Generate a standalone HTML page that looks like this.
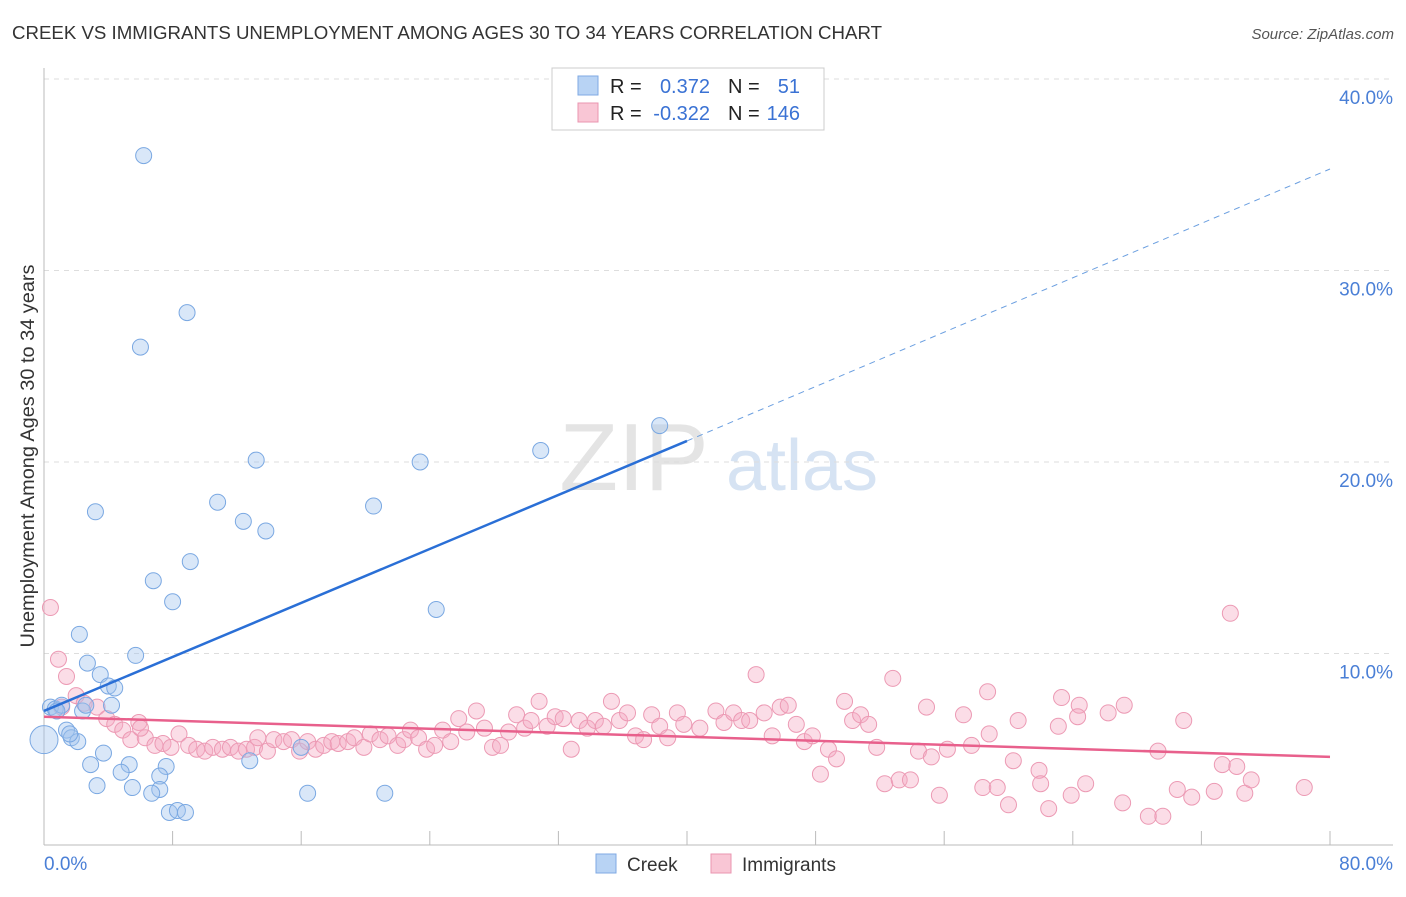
<!DOCTYPE html>
<html><head><meta charset="utf-8"><style>
body{margin:0;background:#fff;font-family:"Liberation Sans",sans-serif;}
svg text{font-family:"Liberation Sans",sans-serif;}
</style></head><body>
<svg id="chart" width="1406" height="892">
<text x="12" y="39" font-size="18" fill="#333" textLength="870" lengthAdjust="spacingAndGlyphs">CREEK VS IMMIGRANTS UNEMPLOYMENT AMONG AGES 30 TO 34 YEARS CORRELATION CHART</text>
<text x="1394" y="39" font-size="15" fill="#555" text-anchor="end" font-style="italic">Source: ZipAtlas.com</text>
<text x="634" y="490" font-size="96" fill="#e4e4e4" font-family="Liberation Serif" text-anchor="middle">ZIP</text>
<text x="802" y="490" font-size="72" fill="#d6e3f3" text-anchor="middle">atlas</text>
<g id="grid"></g>
<g id="axes"></g>
<g id="marks"></g>
<text transform="translate(34,456) rotate(-90)" font-size="19" fill="#333" text-anchor="middle" textLength="383" lengthAdjust="spacingAndGlyphs">Unemployment Among Ages 30 to 34 years</text>
<g>
<rect x="552" y="68" width="272" height="62" fill="#fff" stroke="#ccc"/>
<rect x="578" y="76" width="20" height="19" fill="#b8d3f4" stroke="#7faae3"/>
<rect x="578" y="103" width="20" height="19" fill="#f9c6d5" stroke="#ea95b0"/>
<text x="610" y="93" font-size="20" fill="#222">R =</text>
<text x="710" y="93" font-size="20" fill="#3a72d4" text-anchor="end">0.372</text>
<text x="728" y="93" font-size="20" fill="#222">N =</text>
<text x="800" y="93" font-size="20" fill="#3a72d4" text-anchor="end">51</text>
<text x="610" y="120" font-size="20" fill="#222">R =</text>
<text x="710" y="120" font-size="20" fill="#3a72d4" text-anchor="end">-0.322</text>
<text x="728" y="120" font-size="20" fill="#222">N =</text>
<text x="800" y="120" font-size="20" fill="#3a72d4" text-anchor="end">146</text>
</g>
<g>
<rect x="596" y="854" width="20" height="19" fill="#b8d3f4" stroke="#7faae3"/>
<text x="627" y="871" font-size="19" fill="#333">Creek</text>
<rect x="711" y="854" width="20" height="19" fill="#f9c6d5" stroke="#ea95b0"/>
<text x="742" y="871" font-size="19" fill="#333">Immigrants</text>
</g>
</svg>
<script>
const xTicks=[0,10,20,30,40,50,60,70,80];
const yTicks=[10,20,30,40];
const yTickLabels=["10.0%","20.0%","30.0%","40.0%"];
const xEndLabels=["0.0%","80.0%"];
const creekX=[6.2,8.9,6.0,13.2,23.4,30.9,38.3,3.2,10.8,12.4,13.8,20.5,6.8,9.1,8.0,24.4,2.2,5.7,2.7,3.5,4.0,4.4,4.2,2.4,0.4,0.7,1.1,1.4,1.7,2.1,3.7,2.9,5.3,7.6,4.8,7.2,3.3,5.5,7.2,6.7,16.4,21.2,12.8,16.0,7.8,8.3,8.8,0,0.8,1.6,2.6];
const creekY=[36.0,27.8,26.0,20.1,20.0,20.6,21.9,17.4,17.9,16.9,16.4,17.7,13.8,14.8,12.7,12.3,11.0,9.9,9.5,8.9,8.3,8.2,7.3,7.0,7.2,7.1,7.3,6.0,5.6,5.4,4.8,4.2,4.2,4.1,3.8,3.6,3.1,3.0,2.9,2.7,2.7,2.7,4.4,5.1,1.7,1.8,1.7,5.5,7.0,5.8,7.3];
const immX=[0.4,73.8,0.9,1.4,44.3,52.8,58.7,63.3,67.2,64.4,2.0,2.5,3.3,3.9,4.4,4.9,5.4,5.9,6.3,6.9,7.4,7.9,8.4,9.0,9.5,10.0,10.5,11.1,11.6,12.1,12.6,13.1,13.3,13.9,14.3,14.9,15.4,15.9,16.4,16.9,17.4,17.9,18.3,18.9,19.3,19.9,20.3,20.9,21.4,22.0,22.4,22.8,23.3,23.8,24.3,24.8,25.3,25.8,26.3,26.9,27.4,27.9,28.4,28.9,29.4,29.9,30.3,30.8,31.3,31.8,32.3,32.8,33.3,33.8,34.3,34.8,35.3,35.8,36.3,36.8,37.3,37.8,38.3,38.8,39.4,39.8,40.8,41.8,42.3,42.9,43.4,43.9,44.8,45.3,45.8,46.3,46.8,47.3,47.8,48.3,48.8,49.3,49.8,50.3,50.8,51.3,51.8,52.3,53.2,53.9,54.4,54.9,55.2,55.7,56.2,57.2,57.7,58.4,58.8,59.3,60.0,60.3,60.6,61.9,62.5,63.1,63.9,64.3,64.8,66.2,67.1,68.7,69.3,69.6,70.5,70.9,71.4,72.8,73.3,74.2,74.7,75.1,78.4,62.0,1.1,6.0];
const immY=[12.4,12.1,9.7,8.8,8.9,8.7,8.0,7.7,7.3,7.3,7.8,7.4,7.2,6.6,6.3,6.0,5.5,6.4,5.6,5.2,5.3,5.1,5.8,5.2,5.0,4.9,5.1,5.0,5.1,4.9,5.0,5.1,5.6,4.9,5.5,5.4,5.5,4.9,5.4,5.0,5.2,5.4,5.3,5.4,5.6,5.1,5.8,5.5,5.7,5.2,5.5,6.0,5.6,5.0,5.2,6.0,5.4,6.6,5.9,7.0,6.1,5.1,5.2,5.9,6.8,6.1,6.5,7.5,6.2,6.7,6.6,5.0,6.5,6.1,6.5,6.2,7.5,6.5,6.9,5.7,5.5,6.8,6.2,5.6,6.9,6.3,6.1,7.0,6.4,6.9,6.5,6.5,6.9,5.7,7.2,7.3,6.3,5.4,5.7,3.7,5.0,4.5,7.5,6.5,6.8,6.3,5.1,3.2,3.4,3.4,4.9,7.2,4.6,2.6,5.0,6.8,5.2,3.0,5.8,3.0,2.1,4.4,6.5,3.9,1.9,6.2,2.6,6.7,3.2,6.9,2.2,1.5,4.9,1.5,2.9,6.5,2.5,2.8,4.2,4.1,2.7,3.4,3.0,3.2,7.2,6.1];
const creekTrend=[[0,7.0],[40.0,21.1],[80,35.3]];
const immTrend=[[0,6.7],[80,4.6]];
const NS="http://www.w3.org/2000/svg";
const X=v=>44+v*1286/80;
const Y=v=>845-v*19.15;
function mk(tag,attrs,parent){const e=document.createElementNS(NS,tag);for(const k in attrs)e.setAttribute(k,attrs[k]);parent.appendChild(e);return e;}
const grid=document.getElementById('grid'),axes=document.getElementById('axes'),marks=document.getElementById('marks');
yTicks.forEach((t,i)=>{
 const l=mk('line',{x1:44,x2:1393,y1:Y(t),y2:Y(t),stroke:'#ddd','stroke-dasharray':'5,5'},grid);
 
 
 const tx=mk('text',{x:1393,y:Y(t)+25,'font-size':19,fill:'#4a7fd6','text-anchor':'end'},axes);
 tx.textContent=yTickLabels[i];
 
 
});
const xa=mk('line',{x1:44,x2:1393,y1:845,y2:845,stroke:'#bbb'},axes);


const ya=mk('line',{x1:44,x2:44,y1:68,y2:845,stroke:'#bbb'},axes);


for(let v=0;v<=80;v+=8){const t=mk('line',{x1:X(v),x2:X(v),y1:831,y2:845,stroke:'#bbb'},axes);
 
 }
const xl0=mk('text',{x:44,y:870,'font-size':19,fill:'#4a7fd6'},axes);xl0.textContent=xEndLabels[0];


const xl1=mk('text',{x:1393,y:870,'font-size':19,fill:'#4a7fd6','text-anchor':'end'},axes);xl1.textContent=xEndLabels[1];


immX.forEach((v,i)=>{const c=mk('circle',{cx:X(v),cy:Y(immY[i]),r:8,fill:'rgba(246,170,195,0.4)',stroke:'#ec9ab4','stroke-width':1},marks);
 
 });
creekX.forEach((v,i)=>{const c=mk('circle',{cx:X(v),cy:Y(creekY[i]),r:i===47?14:8,fill:'rgba(160,196,238,0.4)',stroke:'#7aa8e2','stroke-width':1},marks);
 
 });
const ct=mk('line',{x1:X(creekTrend[0][0]),y1:Y(creekTrend[0][1]),x2:X(creekTrend[1][0]),y2:Y(creekTrend[1][1]),stroke:'#2a6fd6','stroke-width':2.5},marks);


const cd=mk('line',{x1:X(creekTrend[1][0]),y1:Y(creekTrend[1][1]),x2:X(creekTrend[2][0]),y2:Y(creekTrend[2][1]),stroke:'#6b9fe0','stroke-width':1,'stroke-dasharray':'6,5'},marks);


const it=mk('line',{x1:X(immTrend[0][0]),y1:Y(immTrend[0][1]),x2:X(immTrend[1][0]),y2:Y(immTrend[1][1]),stroke:'#e8608c','stroke-width':2.5},marks);


</script>
</body></html>
